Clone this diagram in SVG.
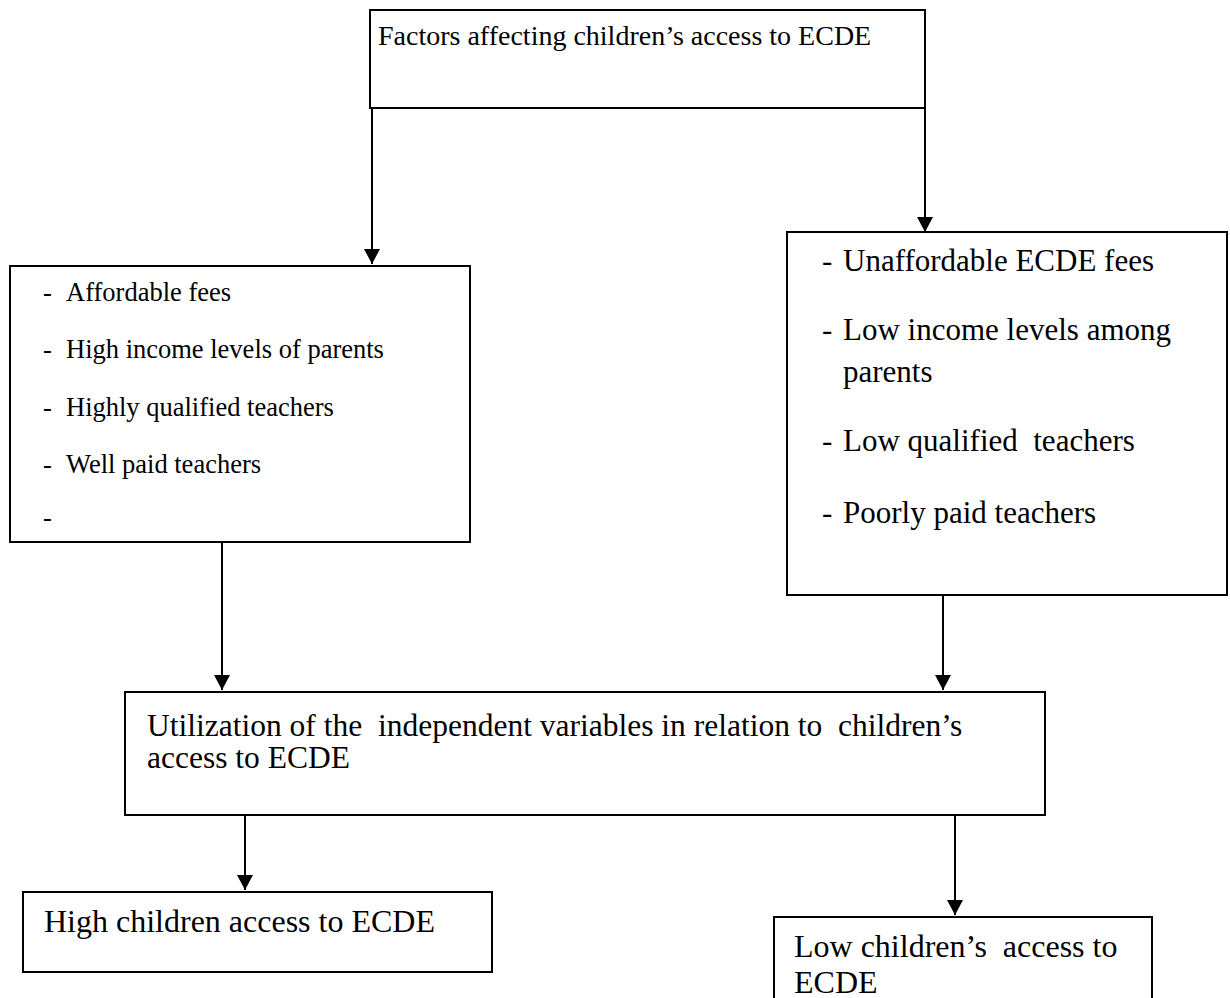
<svg xmlns="http://www.w3.org/2000/svg" width="1230" height="998" viewBox="0 0 1230 998">
<style>
.box{fill:#fff;stroke:#000;stroke-width:2}
.t{font-family:"Liberation Serif","Times New Roman",serif;fill:#000}
.c{stroke:#000;stroke-width:2;fill:none;marker-end:url(#ah)}
</style>
<defs>
<marker id="ah" viewBox="0 0 15 16" refX="15" refY="8" markerWidth="15" markerHeight="16" markerUnits="userSpaceOnUse" orient="auto">
<path d="M0,0 L15,8 L0,16 Z" fill="#000"/>
</marker>
</defs>
<rect width="1230" height="998" fill="#fff"/>
<g id="connectors">
<line class="c" x1="372" y1="108" x2="372" y2="264"/>
<line class="c" x1="925" y1="108" x2="925" y2="232"/>
<line class="c" x1="222" y1="542" x2="222" y2="690"/>
<line class="c" x1="943" y1="595" x2="943" y2="690"/>
<line class="c" x1="245" y1="815" x2="245" y2="890"/>
<line class="c" x1="955" y1="812" x2="955" y2="915"/>
</g>
<g id="top">
<rect class="box" x="370" y="10" width="555" height="98"/>
<text class="t" x="378" y="45" font-size="28">Factors affecting children’s access to ECDE</text>
</g>
<g id="left">
<rect class="box" x="10" y="266" width="460" height="276"/>
<g class="t" font-size="26.5">
<text x="43" y="301">-</text><text x="66" y="301">Affordable fees</text>
<text x="43" y="358">-</text><text x="66" y="358">High income levels of parents</text>
<text x="43" y="416">-</text><text x="66" y="416">Highly qualified teachers</text>
<text x="43" y="473">-</text><text x="66" y="473">Well paid teachers</text>
<text x="43" y="526">-</text>
</g>
</g>
<g id="right">
<rect class="box" x="787" y="232" width="440" height="363"/>
<g class="t" font-size="31">
<text x="822" y="271">-</text><text x="843" y="271">Unaffordable ECDE fees</text>
<text x="822" y="340">-</text><text x="843" y="340">Low income levels among</text>
<text x="843" y="382">parents</text>
<text x="822" y="451">-</text><text x="843" y="451" xml:space="preserve">Low qualified  teachers</text>
<text x="822" y="523">-</text><text x="843" y="523">Poorly paid teachers</text>
</g>
</g>
<g id="middle">
<rect class="box" x="125" y="692" width="920" height="123"/>
<g class="t" font-size="31.5">
<text x="147" y="736" xml:space="preserve">Utilization of the  independent variables in relation to  children’s</text>
<text x="147" y="768">access to ECDE</text>
</g>
</g>
<g id="high">
<rect class="box" x="23" y="892" width="469" height="80"/>
<text class="t" x="44" y="932" font-size="32">High children access to ECDE</text>
</g>
<g id="low">
<rect class="box" x="774" y="917" width="378" height="90"/>
<g class="t" font-size="32">
<text x="794" y="957" xml:space="preserve">Low children’s  access to</text>
<text x="794" y="993">ECDE</text>
</g>
</g>
</svg>
